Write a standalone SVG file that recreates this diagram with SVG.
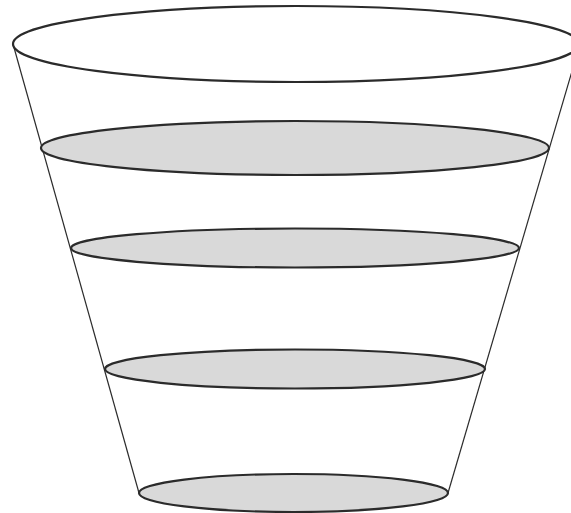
<svg xmlns="http://www.w3.org/2000/svg" width="571" height="513" viewBox="0 0 571 513">
<style>
.side{stroke:#2b2b2b;stroke-width:1.2;fill:none}
.rim{stroke:#2b2b2b;stroke-width:2.2;fill:#d9d9d9}
.top{fill:#ffffff}
</style>
<rect width="571" height="513" fill="#ffffff"/>
<g id="connectors">
<line class="side" x1="13" y1="44" x2="139" y2="493"/>
<line class="side" x1="580" y1="44" x2="448" y2="493"/>
</g>
<g id="layer0"><ellipse class="rim top" cx="296" cy="44" rx="283" ry="38"/></g>
<g id="layer1"><ellipse class="rim" cx="295" cy="148" rx="254" ry="27"/></g>
<g id="layer2"><ellipse class="rim" cx="295" cy="248" rx="224" ry="19.5"/></g>
<g id="layer3"><ellipse class="rim" cx="295" cy="369" rx="190" ry="19.5"/></g>
<g id="layer4"><ellipse class="rim" cx="293.5" cy="493" rx="154.5" ry="19"/></g>
</svg>
